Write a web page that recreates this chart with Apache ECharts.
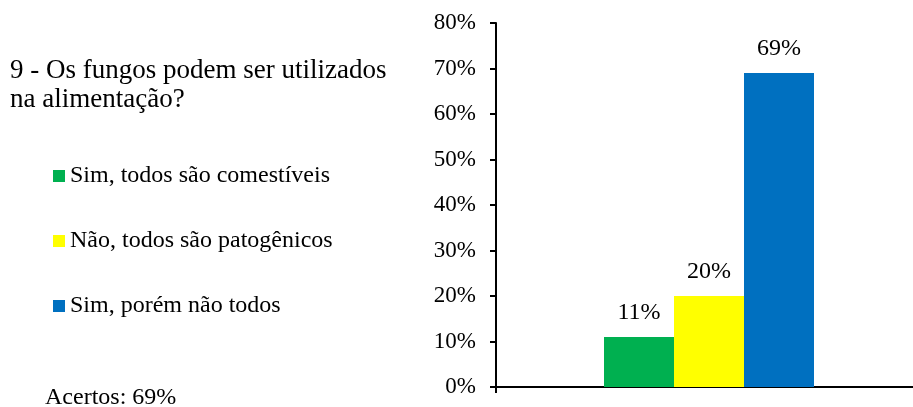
<!DOCTYPE html>
<html>
<head>
<meta charset="utf-8">
<script src="https://cdn.jsdelivr.net/npm/echarts@6/dist/echarts.min.js"></script>
<style>
  html, body { margin: 0; padding: 0; background: #fff; }
  #chart { width: 913px; height: 407px; }
</style>
</head>
<body>
<div id="chart"></div>
<script>
// dados do gráfico
const categories = ['']
const seriesNames = ['Sim, todos são comestíveis', 'Não, todos são patogênicos', 'Sim, porém não todos']
const seriesValues = [[11], [20], [69]]
const seriesColors = ['#00B050', '#FFFF00', '#0070C0']
const yMax = 80
const yInterval = 10

const font = 'Liberation Serif, Times New Roman, serif'

const chart = echarts.init(document.getElementById('chart'))

const option = {
  animation: false,
  textStyle: { fontFamily: font, color: '#000' },
  title: [
    {
      text: '9 - Os fungos podem ser utilizados\nna alimentação?',
      left: 5,
      top: 51,
      textStyle: { fontFamily: font, fontSize: 27, fontWeight: 'normal', lineHeight: 29, color: '#000' }
    },
    {
      text: 'Acertos: 69%',
      left: 40,
      top: 381,
      textStyle: { fontFamily: font, fontSize: 24, fontWeight: 'normal', color: '#000' }
    }
  ],
  legend: {
    orient: 'vertical',
    left: 48,
    top: 159,
    icon: 'rect',
    itemWidth: 12,
    itemHeight: 12,
    itemGap: 41,
    textStyle: { fontFamily: font, fontSize: 24, color: '#000', lineHeight: 24 },
    data: seriesNames
  },
  grid: {
    left: 496,
    right: -9,
    top: 23,
    bottom: 20,
    outerBoundsMode: 'none',
    containLabel: false
  },
  xAxis: {
    type: 'category',
    data: categories,
    axisLine: { show: true, lineStyle: { color: '#000', width: 2 } },
    axisTick: { show: true, length: 6, lineStyle: { color: '#000', width: 2 } },
    axisLabel: { show: false }
  },
  yAxis: {
    type: 'value',
    min: 0,
    max: yMax,
    interval: yInterval,
    axisLine: { show: true, lineStyle: { color: '#000', width: 2 } },
    axisTick: { show: true, length: 6, lineStyle: { color: '#000', width: 2 } },
    splitLine: { show: false },
    axisLabel: {
      formatter: '{value}%',
      fontFamily: font,
      fontSize: 23,
      color: '#000',
      margin: 20
    }
  },
  series: seriesNames.map((name, i) => ({
    name: name,
    type: 'bar',
    data: seriesValues[i],
    barWidth: 70,
    barGap: '0%',
    itemStyle: { color: seriesColors[i] },
    label: {
      show: true,
      position: 'top',
      distance: 12,
      formatter: '{c}%',
      fontFamily: font,
      fontSize: 24,
      color: '#000'
    }
  }))
}

chart.setOption(option)
window.addEventListener('resize', () => chart.resize())
</script>
</body>
</html>
